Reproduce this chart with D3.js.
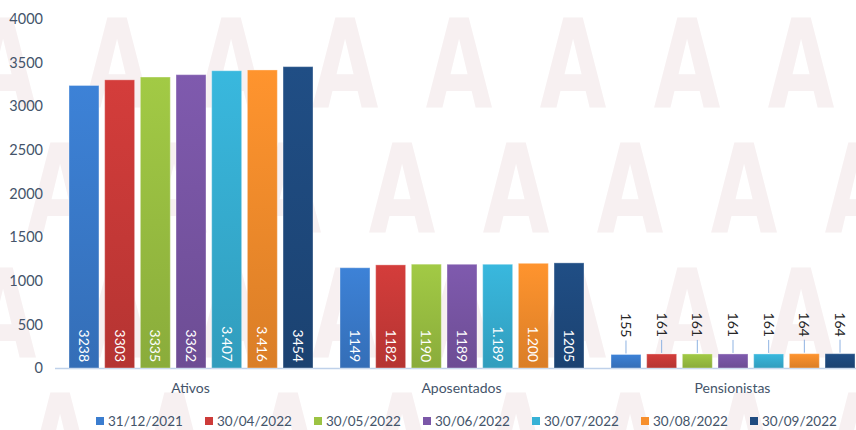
<!DOCTYPE html>
<html>
<head>
<meta charset="utf-8">
<script src="https://cdn.jsdelivr.net/npm/d3@7"></script>
<style>
  html, body { margin: 0; padding: 0; background: #fff; }
  svg { display: block; font-family: Lato, "Open Sans", sans-serif; }
</style>
</head>
<body>
<div id="chart"></div>
<script>
const categories = ["Ativos", "Aposentados", "Pensionistas"];
const dates = ["31/12/2021", "30/04/2022", "30/05/2022", "30/06/2022", "30/07/2022", "30/08/2022", "30/09/2022"];
const ativos = [3238, 3303, 3335, 3362, 3407, 3416, 3454];
const aposentados = [1149, 1182, 1190, 1189, 1189, 1200, 1205];
const pensionistas = [155, 161, 161, 161, 161, 164, 164];
const ativosLabels = ["3238", "3303", "3335", "3362", "3.407", "3.416", "3454"];
const aposentadosLabels = ["1149", "1182", "1190", "1189", "1.189", "1.200", "1205"];
const pensionistasLabels = ["155", "161", "161", "161", "161", "164", "164"];
const yTicks = [0, 500, 1000, 1500, 2000, 2500, 3000, 3500, 4000];

const colors = ["#3b7dcf", "#cd3b39", "#9cc343", "#7b57a8", "#37b2d6", "#f78f2c", "#1f4b80"];

const width = 856, height = 430;
const textColor = "#44546a";

const svg = d3.select("#chart").append("svg")
    .attr("width", width)
    .attr("height", height)
    .attr("viewBox", [0, 0, width, height]);

// faint watermark letters
const wm = svg.append("g").attr("fill", "#f7f0f1").attr("font-family", "DejaVu Sans")
    .attr("font-weight", "bold").attr("font-size", 123);
[17, 142, 267, 392].forEach((top, r) => {
    const start = r % 2 === 0 ? 3 : -54;
    for (let cx = start; cx < width + 60; cx += 114) {
        wm.append("text")
            .attr("transform", `translate(${cx},${top + 90}) scale(0.7,1)`)
            .attr("text-anchor", "middle")
            .text("A");
    }
});

const series = [
    { values: ativos, labels: ativosLabels },
    { values: aposentados, labels: aposentadosLabels },
    { values: pensionistas, labels: pensionistasLabels }
];

const x0 = d3.scaleBand(categories, [55, 868]).padding(0);
const x1 = d3.scaleBand(d3.range(dates.length), [14, 258]).paddingInner(0.16).paddingOuter(0);
const y = d3.scaleLinear([0, 4000], [368, 19]);

// gradients
const defs = svg.append("defs");
colors.forEach((c, i) => {
    const g = defs.append("linearGradient").attr("id", "g" + i)
        .attr("x1", 0).attr("x2", 0).attr("y1", 0).attr("y2", 1);
    g.append("stop").attr("offset", "0%").attr("stop-color", d3.color(c).brighter(0.1));
    g.append("stop").attr("offset", "100%").attr("stop-color", d3.color(c).darker(0.35));
});

// y axis
const yAxis = svg.append("g")
    .attr("transform", "translate(43,0)")
    .call(d3.axisLeft(y).tickValues(yTicks).tickFormat(d3.format("d")).tickSize(0).tickPadding(0));
yAxis.select(".domain").remove();
yAxis.selectAll("text").attr("fill", textColor).attr("font-size", 14.5).attr("font-family", "Lato");

// baseline
svg.append("line")
    .attr("x1", 55).attr("x2", width)
    .attr("y1", y(0) + 0.5).attr("y2", y(0) + 0.5)
    .attr("stroke", "#bfd1ea").attr("stroke-width", 1.5);

// bars
const groups = svg.append("g").selectAll("g")
    .data(series)
    .join("g")
    .attr("transform", (d, i) => `translate(${x0(categories[i])},0)`);

groups.selectAll("rect")
    .data(d => d.values.map((v, j) => ({ v, j, label: d.labels[j] })))
    .join("rect")
    .attr("x", d => x1(d.j))
    .attr("y", d => y(d.v))
    .attr("width", x1.bandwidth())
    .attr("height", d => y(0) - y(d.v))
    .attr("fill", d => `url(#g${d.j})`)
    .attr("stroke", "#ffffff")
    .attr("stroke-opacity", 0.35)
    .attr("stroke-width", 1);

// labels inside bars (first two groups)
groups.filter((d, i) => i < 2).selectAll("text.inside")
    .data(d => d.values.map((v, j) => ({ v, j, label: d.labels[j] })))
    .join("text")
    .attr("class", "inside")
    .attr("transform", d => `translate(${x1(d.j) + x1.bandwidth() / 2},${y(0) - 6}) rotate(90)`)
    .attr("text-anchor", "end")
    .attr("dy", "0.35em")
    .attr("fill", "#ffffff")
    .attr("font-size", 14)
    .text(d => d.label);

// labels above bars with leader lines (Pensionistas)
const pens = groups.filter((d, i) => i === 2).selectAll("g.lab")
    .data(d => d.values.map((v, j) => ({ v, j, label: d.labels[j] })))
    .join("g")
    .attr("class", "lab");

pens.append("line")
    .attr("x1", d => x1(d.j) + x1.bandwidth() / 2)
    .attr("x2", d => x1(d.j) + x1.bandwidth() / 2)
    .attr("y1", d => y(d.v) - 1)
    .attr("y2", d => y(d.v) - 14)
    .attr("stroke", "#8fb3e2")
    .attr("stroke-width", 1);

pens.append("text")
    .attr("transform", d => `translate(${x1(d.j) + x1.bandwidth() / 2},${y(d.v) - 17}) rotate(90)`)
    .attr("text-anchor", "end")
    .attr("dy", "0.35em")
    .attr("fill", "#262626")
    .attr("font-size", 14)
    .text(d => d.label);

// category labels
svg.append("g").selectAll("text")
    .data(categories)
    .join("text")
    .attr("x", d => x0(d) + x0.bandwidth() / 2)
    .attr("y", 393)
    .attr("text-anchor", "middle")
    .attr("fill", textColor)
    .attr("font-size", 14)
    .text(d => d);

// legend
const legend = svg.append("g").selectAll("g")
    .data(dates)
    .join("g")
    .attr("transform", (d, i) => `translate(${96 + i * 109},421)`);

legend.append("rect")
    .attr("x", 0).attr("y", -4)
    .attr("width", 8).attr("height", 8)
    .attr("fill", (d, i) => colors[i]);

legend.append("text")
    .attr("x", 12)
    .attr("dy", "0.35em")
    .attr("fill", textColor)
    .attr("font-size", 13.5)
    .text(d => d);
</script>
</body>
</html>
